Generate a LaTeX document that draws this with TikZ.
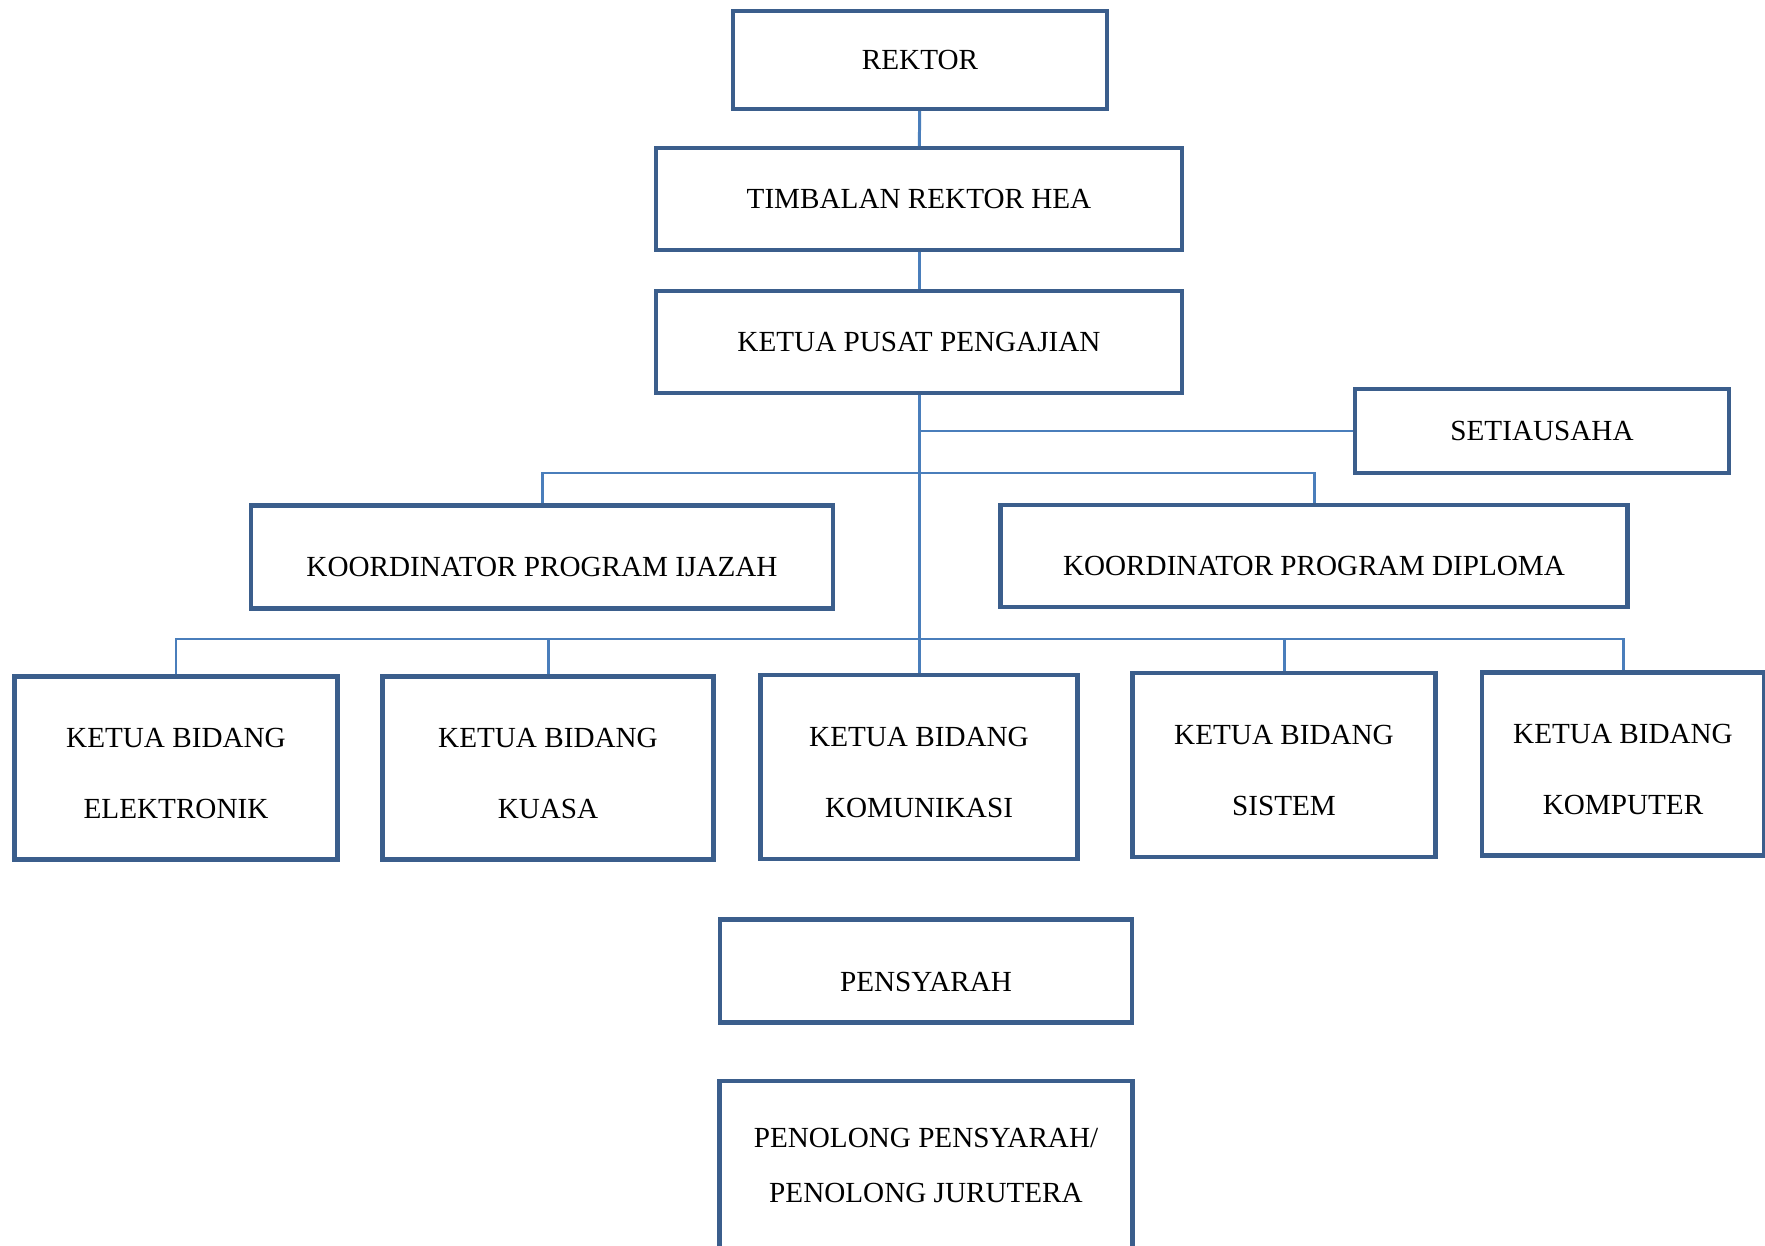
\documentclass[tikz,border=0pt]{standalone}
\usepackage{fontspec}
\setmainfont{Liberation Serif}
\usepackage{tikz}
\definecolor{boxblue}{RGB}{59,94,140}
\definecolor{lineblue}{RGB}{74,126,187}

\begin{document}
\begin{tikzpicture}[x=0.1mm,y=-0.1mm,
      box/.style={rectangle,draw=boxblue,line width=1.2pt,inner sep=0pt,
        font=\fontsize{8.3}{10}\selectfont},
      lowbox/.style={box,text height=3.8mm,text depth=0pt},
      twoline/.style={box,align=center,font=\fontsize{8.3}{20.2}\selectfont,
        text height=10mm,text depth=0pt},
      link/.style={draw=lineblue,line width=0.85pt}]
      \useasboundingbox (0,0) rectangle (1765,1246);

      \node[box,minimum width=37.4mm,minimum height=9.8mm] (rektor) at (920,60) {REKTOR};
      \node[box,minimum width=52.6mm,minimum height=10.2mm] (timbalan) at (919,199) {TIMBALAN REKTOR HEA};
      \node[box,minimum width=52.6mm,minimum height=10.2mm] (pusat) at (919,342) {KETUA PUSAT PENGAJIAN};
      \node[box,minimum width=37.4mm,minimum height=8.4mm] (setia) at (1542,431) {SETIAUSAHA};

      \node[lowbox,minimum width=58.2mm,minimum height=10.3mm] (ijazah) at (542,557) {KOORDINATOR PROGRAM IJAZAH};
      \node[lowbox,minimum width=62.7mm,minimum height=10.2mm] (diploma) at (1314,556) {KOORDINATOR PROGRAM DIPLOMA};

      \node[twoline,minimum width=32.3mm,minimum height=18.3mm] (elektronik) at (176,768) {KETUA BIDANG\\ELEKTRONIK};
      \node[twoline,minimum width=33.1mm,minimum height=18.3mm] (kuasa) at (548,768) {KETUA BIDANG\\KUASA};
      \node[twoline,minimum width=31.7mm,minimum height=18.4mm] (komunikasi) at (919,767) {KETUA BIDANG\\KOMUNIKASI};
      \node[twoline,minimum width=30.3mm,minimum height=18.4mm] (sistem) at (1284,765) {KETUA BIDANG\\SISTEM};
      \node[twoline,minimum width=28.2mm,minimum height=18.3mm] (komputer) at (1623,764) {KETUA BIDANG\\KOMPUTER};

      \node[box,text height=4mm,text depth=0pt,minimum width=41.2mm,minimum height=10.3mm] (pensyarah) at (926,971) {PENSYARAH};
      \node[box,align=center,font=\fontsize{8.3}{15.6}\selectfont,minimum width=41.3mm,
        anchor=north,text height=12.1mm,text depth=10mm] (penolong) at (926,1079)
        {PENOLONG PENSYARAH/\\PENOLONG JURUTERA};

      \coordinate (kbus) at (920,473);
      \coordinate (bbus) at (920,639);

      \path[link]
      (rektor) edge (timbalan)
      (timbalan) edge (pusat)
      (pusat) edge (komunikasi)
      (setia.west) edge (setia.west -| pusat.south);

      \draw[link] (ijazah.north) |- (kbus) -| (diploma.north);
      \draw[link] (elektronik.north) |- (bbus) -| (komputer.north);
      \draw[link] (kuasa.north) -- (kuasa.north |- bbus);
      \draw[link] (sistem.north) -- (sistem.north |- bbus);
\end{tikzpicture}
\end{document}
